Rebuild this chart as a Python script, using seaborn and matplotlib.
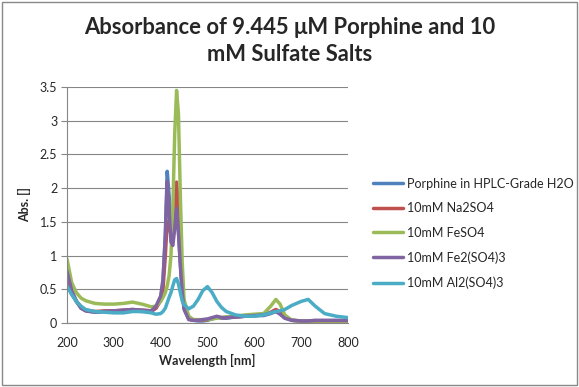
import matplotlib
matplotlib.use("Agg")
import matplotlib.pyplot as plt
import pandas as pd
import seaborn as sns
from matplotlib.patches import Rectangle

wavelength = [200, 210, 220, 230, 240, 260, 280, 300, 320, 340, 360, 380, 390, 400, 405,
              410, 414, 418, 422, 426, 430, 434, 438, 442, 446, 450, 460, 470, 480, 490,
              500, 510, 520, 530, 540, 560, 580, 600, 620, 635, 646, 655, 665, 680, 700,
              715, 730, 750, 775, 800]

porphine = [0.70, 0.45, 0.32, 0.22, 0.18, 0.16, 0.17, 0.17, 0.18, 0.18, 0.17, 0.17, 0.22, 0.35, 0.60,
            1.30, 2.25, 1.90, 1.40, 1.25, 1.45, 1.65, 1.35, 0.90, 0.50, 0.25, 0.06, 0.04, 0.03, 0.03,
            0.04, 0.06, 0.09, 0.07, 0.07, 0.09, 0.10, 0.11, 0.11, 0.14, 0.17, 0.14, 0.08, 0.04, 0.03,
            0.03, 0.03, 0.03, 0.03, 0.03]
na2so4 = [0.65, 0.44, 0.32, 0.23, 0.19, 0.17, 0.18, 0.18, 0.19, 0.20, 0.19, 0.18, 0.22, 0.33, 0.50,
          1.00, 1.50, 1.45, 1.30, 1.30, 1.70, 2.09, 1.70, 1.00, 0.50, 0.22, 0.06, 0.04, 0.04, 0.04,
          0.05, 0.07, 0.09, 0.08, 0.08, 0.09, 0.10, 0.11, 0.12, 0.16, 0.20, 0.17, 0.09, 0.04, 0.03,
          0.03, 0.03, 0.03, 0.03, 0.03]
feso4 = [0.95, 0.60, 0.45, 0.37, 0.33, 0.29, 0.28, 0.28, 0.29, 0.31, 0.28, 0.24, 0.25, 0.32, 0.38,
         0.45, 0.55, 0.70, 1.00, 1.70, 2.80, 3.45, 3.10, 1.90, 0.90, 0.35, 0.10, 0.05, 0.05, 0.05,
         0.05, 0.06, 0.07, 0.08, 0.09, 0.10, 0.12, 0.13, 0.14, 0.25, 0.35, 0.28, 0.12, 0.04, 0.03,
         0.03, 0.03, 0.03, 0.03, 0.03]
fe2so43 = [0.77, 0.48, 0.33, 0.22, 0.18, 0.16, 0.17, 0.18, 0.19, 0.20, 0.19, 0.18, 0.25, 0.40, 0.65,
           1.30, 2.10, 1.70, 1.20, 1.15, 1.40, 1.70, 1.35, 0.85, 0.45, 0.20, 0.05, 0.04, 0.04, 0.05,
           0.06, 0.08, 0.10, 0.08, 0.08, 0.09, 0.10, 0.11, 0.12, 0.15, 0.17, 0.13, 0.07, 0.04, 0.03,
           0.03, 0.04, 0.04, 0.04, 0.04]
al2so43 = [0.55, 0.42, 0.32, 0.25, 0.20, 0.17, 0.16, 0.15, 0.15, 0.17, 0.17, 0.15, 0.13, 0.14, 0.17,
           0.22, 0.30, 0.38, 0.45, 0.55, 0.64, 0.66, 0.58, 0.45, 0.33, 0.27, 0.21, 0.25, 0.35, 0.48,
           0.54, 0.45, 0.32, 0.23, 0.17, 0.12, 0.10, 0.10, 0.12, 0.15, 0.17, 0.18, 0.20, 0.26, 0.32,
           0.35, 0.25, 0.14, 0.10, 0.08]

series_names = ["Porphine in HPLC-Grade H2O", "10mM Na2SO4", "10mM FeSO4",
                "10mM Fe2(SO4)3", "10mM Al2(SO4)3"]
series_values = [porphine, na2so4, feso4, fe2so43, al2so43]
colors = ["#4F81BD", "#C0504D", "#9BBB59", "#8064A2", "#4BACC6"]

frames = [pd.DataFrame({"Wavelength": wavelength, "Abs": vals, "Series": name})
          for name, vals in zip(series_names, series_values)]
df = pd.concat(frames, ignore_index=True)

sns.set_style("white")
plt.rcParams["font.family"] = ["Lato", "DejaVu Sans"]

fig = plt.figure(figsize=(5.79, 3.87), dpi=100)
fig.patches.append(Rectangle((0.003, 0.005), 0.994, 0.99, transform=fig.transFigure,
                             fill=False, edgecolor="#888888", linewidth=1))
ax = fig.add_axes([0.1157, 0.1654, 0.4853, 0.6096])

sns.lineplot(data=df, x="Wavelength", y="Abs", hue="Series", hue_order=series_names,
             palette=colors, linewidth=2.5, ax=ax, sort=False)

ax.set_xlim(200, 800)
ax.set_ylim(0, 3.5)
ax.set_xticks(range(200, 801, 100))
ax.set_yticks([0, 0.5, 1, 1.5, 2, 2.5, 3, 3.5])
ax.set_yticklabels(["0", "0.5", "1", "1.5", "2", "2.5", "3", "3.5"])
ax.yaxis.grid(True, color="#868686", linewidth=0.8)
ax.xaxis.grid(False)
ax.set_axisbelow(True)
for side in ["top", "right"]:
    ax.spines[side].set_visible(False)
for side in ["left", "bottom"]:
    ax.spines[side].set_color("#868686")
ax.tick_params(axis="both", labelsize=9, length=4, color="#868686", direction="out",
               left=True, bottom=False, pad=3)
ax.tick_params(axis="x", pad=6)
ax.set_xlabel("Wavelength [nm]", fontsize=9, fontweight="bold", labelpad=4)
ax.set_ylabel("Abs. []", fontsize=9, fontweight="bold", labelpad=6)

fig.suptitle("Absorbance of 9.445 \u03bcM Porphine and 10\nmM Sulfate Salts",
             fontsize=15.8, fontweight="bold", x=0.5, y=0.955, linespacing=1.3)

handles, labels = ax.get_legend_handles_labels()
ax.legend(handles, labels, loc="center left", bbox_to_anchor=(1.05, 0.38), frameon=False,
          fontsize=9, handlelength=2.4, labelspacing=1.0, handletextpad=0.3)

fig.savefig("out.png", dpi=100)
